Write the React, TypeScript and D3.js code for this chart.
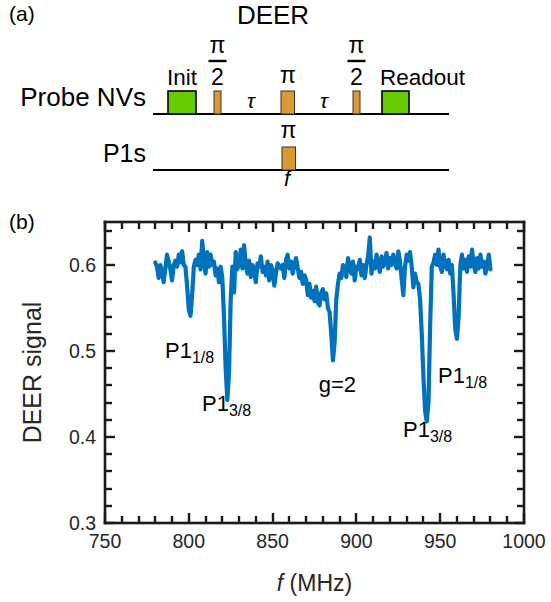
import React from "react";
import * as d3 from "d3";

const freqStart = 780;
const signal: number[] = [
  0.603, 0.598, 0.585, 0.600, 0.592, 0.580, 0.596, 0.612, 0.604, 0.595,
  0.582, 0.600, 0.605, 0.598, 0.612, 0.603, 0.616, 0.600, 0.598, 0.575,
  0.548, 0.541, 0.565, 0.598, 0.606, 0.600, 0.612, 0.595, 0.628, 0.605,
  0.590, 0.615, 0.598, 0.612, 0.600, 0.604, 0.588, 0.596, 0.580, 0.598,
  0.585, 0.540, 0.480, 0.443, 0.475, 0.560, 0.598, 0.568, 0.615, 0.595,
  0.602, 0.618, 0.596, 0.623, 0.600, 0.590, 0.605, 0.586, 0.600, 0.594,
  0.580, 0.602, 0.598, 0.610, 0.592, 0.598, 0.588, 0.604, 0.582, 0.600,
  0.594, 0.576, 0.590, 0.602, 0.598, 0.596, 0.600, 0.585, 0.606, 0.612,
  0.596, 0.604, 0.590, 0.600, 0.608, 0.596, 0.585, 0.592, 0.578, 0.588,
  0.583, 0.565, 0.578, 0.562, 0.570, 0.558, 0.575, 0.556, 0.553, 0.568,
  0.572, 0.560, 0.567, 0.550, 0.545, 0.520, 0.489, 0.510, 0.560, 0.578,
  0.590, 0.585, 0.600, 0.596, 0.586, 0.608, 0.598, 0.590, 0.604, 0.582,
  0.598, 0.595, 0.606, 0.588, 0.600, 0.585, 0.600, 0.610, 0.632, 0.590,
  0.604, 0.596, 0.612, 0.600, 0.592, 0.610, 0.598, 0.604, 0.614, 0.596,
  0.608, 0.600, 0.612, 0.602, 0.596, 0.616, 0.605, 0.584, 0.565, 0.598,
  0.612, 0.605, 0.615, 0.598, 0.574, 0.590, 0.580, 0.578, 0.560, 0.520,
  0.470, 0.430, 0.418, 0.440, 0.530, 0.598, 0.603, 0.612, 0.600, 0.618,
  0.598, 0.592, 0.612, 0.600, 0.595, 0.606, 0.590, 0.600, 0.565, 0.525,
  0.514, 0.540, 0.600, 0.612, 0.596, 0.606, 0.592, 0.610, 0.598, 0.618,
  0.600, 0.592, 0.608, 0.596, 0.612, 0.598, 0.604, 0.590, 0.600, 0.612,
  0.595,
];

const xMajorTicks = [750, 800, 850, 900, 950, 1000];
const yMajorTicks = [0.3, 0.4, 0.5, 0.6];
const xDomain: [number, number] = [750, 1000];
const yDomain: [number, number] = [0.3, 0.65];

const annotations = [
  { main: "P1", sub: "1/8", f: 785.8, v: 0.4915 },
  { main: "P1", sub: "3/8", f: 807.9, v: 0.43 },
  { main: "g=2", sub: "", f: 877.5, v: 0.452 },
  { main: "P1", sub: "1/8", f: 948.7, v: 0.4625 },
  { main: "P1", sub: "3/8", f: 927.8, v: 0.4 },
];

const FONT = "'Liberation Sans', Arial, Helvetica, sans-serif";
const AX = "#1a1a1a";
const ORANGE = "#D99A33";
const GREEN = "#66CC00";

export default function App() {
  const x = d3.scaleLinear().domain(xDomain).range([105, 524]);
  const y = d3.scaleLinear().domain(yDomain).range([523, 222]);
  const data = signal.map((v, i) => ({ f: freqStart + i, v }));
  const line = d3
    .line<{ f: number; v: number }>()
    .x((d) => x(d.f))
    .y((d) => y(d.v));

  const xMinor = d3.range(750, 1000.1, 10);
  const yMinor = d3.range(0.3, 0.651, 0.02).map((v) => +v.toFixed(3));
  const [x0, x1] = x.range();
  const [y0, y1] = y.range(); // y0 bottom, y1 top
  const majLen = 10;
  const minLen = 7;
  const tw = 2.4;

  const tickRects: { x: number; y: number; w: number; h: number }[] = [];
  xMinor.forEach((t) => {
    const isMaj = xMajorTicks.some((m) => Math.abs(m - t) < 1e-6);
    const len = isMaj ? majLen : minLen;
    const px = Math.round(x(t));
    tickRects.push({ x: px - tw / 2, y: y0 - len, w: tw, h: len });
    tickRects.push({ x: px - tw / 2, y: y1, w: tw, h: len });
  });
  yMinor.forEach((t) => {
    const isMaj = yMajorTicks.some((m) => Math.abs(m - t) < 1e-6);
    const len = isMaj ? majLen : minLen;
    const py = Math.round(y(t));
    tickRects.push({ x: x0, y: py - tw / 2, w: len, h: tw });
    tickRects.push({ x: x1 - len, y: py - tw / 2, w: len, h: tw });
  });
  const bw = 2.6;
  const boxRects = [
    { x: x0 - bw / 2, y: y1 - bw / 2, w: x1 - x0 + bw, h: bw },
    { x: x0 - bw / 2, y: y0 - bw / 2, w: x1 - x0 + bw, h: bw },
    { x: x0 - bw / 2, y: y1 - bw / 2, w: bw, h: y0 - y1 + bw },
    { x: x1 - bw / 2, y: y1 - bw / 2, w: bw, h: y0 - y1 + bw },
  ];

  return (
    <div style={{ position: "absolute", left: 0, top: 0 }}>
      <svg width={551} height={602} style={{ display: "block", fontFamily: FONT }}>
        <rect width={551} height={602} fill="#fff" />
        {/* Panel (a) */}
        <text x={9} y={21} fontSize={21} fill="#000">(a)</text>
        <text x={273} y={24} fontSize={26} textAnchor="middle" fill="#000">DEER</text>
        <text x={146} y={106} fontSize={26} textAnchor="end" fill="#000">Probe NVs</text>
        <text x={146} y={162} fontSize={25} textAnchor="end" fill="#000">P1s</text>
        <line x1={153} x2={449} y1={114} y2={114} stroke="#000" strokeWidth={2} />
        <line x1={153} x2={449} y1={170} y2={170} stroke="#000" strokeWidth={2} />
        {/* Init and readout boxes */}
        <rect x={168} y={91} width={28} height={23} fill={GREEN} stroke="#000" strokeWidth={1.6} />
        <rect x={382} y={91} width={27} height={23} fill={GREEN} stroke="#000" strokeWidth={1.6} />
        <text x={167} y={85} fontSize={22.5} fill="#000">Init</text>
        <text x={380} y={85} fontSize={22.5} fill="#000">Readout</text>
        {/* pulses */}
        <rect x={214} y={91} width={7} height={23} fill={ORANGE} stroke="#333" strokeWidth={1} />
        <rect x={281} y={91} width={13.5} height={23} fill={ORANGE} stroke="#333" strokeWidth={1} />
        <rect x={353} y={91} width={7} height={23} fill={ORANGE} stroke="#333" strokeWidth={1} />
        <rect x={282} y={147} width={13.5} height={23} fill={ORANGE} stroke="#333" strokeWidth={1} />
        {/* pi/2 labels */}
        {[217.5, 356.5].map((cx, i) => (
          <g key={i}>
            <text x={cx} y={53} fontSize={23} textAnchor="middle" fill="#000">π</text>
            <line x1={cx - 9} x2={cx + 9} y1={61} y2={61} stroke="#000" strokeWidth={2.4} />
            <text x={cx} y={85} fontSize={23} textAnchor="middle" fill="#000">2</text>
          </g>
        ))}
        <text x={288} y={82.5} fontSize={23} textAnchor="middle" fill="#000">π</text>
        <text x={288.5} y={137.5} fontSize={23} textAnchor="middle" fill="#000">π</text>
        <text x={251} y={108} fontSize={21} fontStyle="italic" textAnchor="middle" fill="#000">τ</text>
        <text x={324} y={108} fontSize={21} fontStyle="italic" textAnchor="middle" fill="#000">τ</text>
        <text x={287} y={186} fontSize={22} fontStyle="italic" textAnchor="middle" fill="#000">f</text>

        {/* Panel (b) */}
        <text x={9} y={229} fontSize={21} fill="#000">(b)</text>
        <path d={line(data) || ""} fill="none" stroke="#0072BD" strokeWidth={4.2} strokeLinejoin="round" strokeLinecap="round" />
        {/* axes box and ticks */}
        <g fill={AX}>
          {tickRects.map((r, i) => (
            <rect key={"t" + i} x={r.x} y={r.y} width={r.w} height={r.h} />
          ))}
          {boxRects.map((r, i) => (
            <rect key={"b" + i} x={r.x} y={r.y} width={r.w} height={r.h} />
          ))}
        </g>
        {xMajorTicks.map((t) => (
          <text key={"xl" + t} x={x(t)} y={547.5} fontSize={19.5} textAnchor="middle" fill="#262626">
            {t}
          </text>
        ))}
        {yMajorTicks.map((t) => (
          <text key={"yl" + t} x={96} y={y(t) + 7} fontSize={19.5} textAnchor="end" fill="#262626">
            {t.toFixed(1)}
          </text>
        ))}
        <text x={(x0 + x1) / 2} y={591} fontSize={23} textAnchor="middle" fill="#262626">
          <tspan fontStyle="italic">f</tspan> (MHz)
        </text>
        <text
          transform={`translate(41, ${(y0 + y1) / 2}) rotate(-90)`}
          fontSize={25}
          textAnchor="middle"
          fill="#262626"
        >
          DEER signal
        </text>
        {annotations.map((a, i) => (
          <text key={"an" + i} x={x(a.f)} y={y(a.v)} fontSize={22} fill="#000">
            {a.main}
            {a.sub && (
              <tspan fontSize={16} dy={5}>
                {a.sub}
              </tspan>
            )}
          </text>
        ))}
      </svg>
    </div>
  );
}
